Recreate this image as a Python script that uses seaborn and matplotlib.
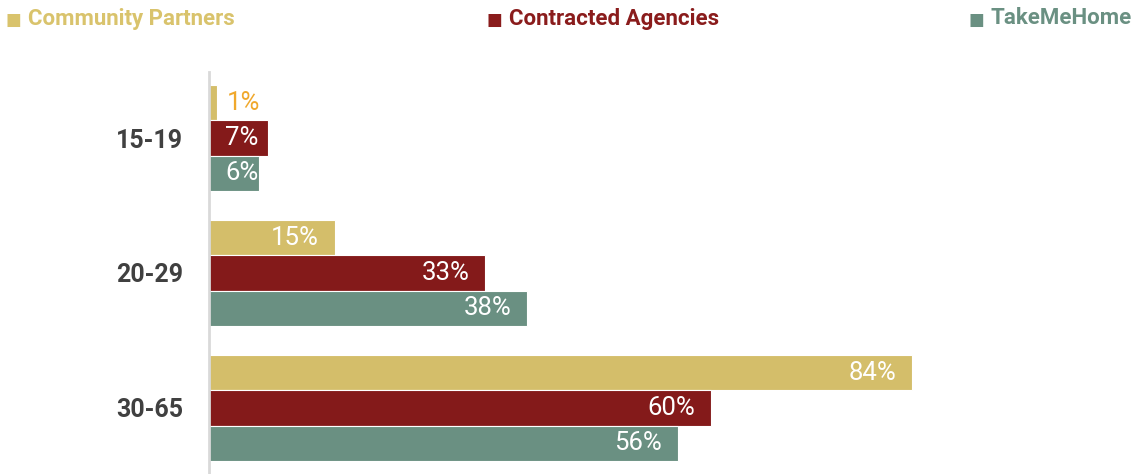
import matplotlib
matplotlib.use("Agg")
import matplotlib.pyplot as plt
import seaborn as sns
import pandas as pd

# Age groups and the share of each program's clients in them (%)
age_groups = ["15-19", "20-29", "30-65"]
programs = ["Community Partners", "Contracted Agencies", "TakeMeHome"]
community_partners = [1, 15, 84]
contracted_agencies = [7, 33, 60]
take_me_home = [6, 38, 56]

palette = {"Community Partners": "#D4BE6A",
           "Contracted Agencies": "#841A1A",
           "TakeMeHome": "#6A9082"}
legend_colors = {"Community Partners": "#D9C36C",
                 "Contracted Agencies": "#8A1C1C",
                 "TakeMeHome": "#6A9082"}

rows = []
for prog, vals in zip(programs, [community_partners, contracted_agencies, take_me_home]):
    for age, v in zip(age_groups, vals):
        rows.append({"age": age, "program": prog, "value": v})
df = pd.DataFrame(rows)

sns.set_theme(style="white")
FONT = ["Roboto", "DejaVu Sans"]
plt.rcParams["font.family"] = FONT

W, H = 1136, 474
fig = plt.figure(figsize=(W / 100, H / 100), dpi=100)
ax_left, ax_right = 209, 1125
ax = fig.add_axes([ax_left / W, 0.0, (ax_right - ax_left) / W, 1 - 72 / H])

sns.barplot(data=df, y="age", x="value", hue="program", order=age_groups,
            hue_order=programs, palette=palette, orient="h", width=0.785,
            saturation=1, edgecolor="white", linewidth=0.8, legend=False, ax=ax)

px_per_unit = 8.37
ax.set_xlim(0, (ax_right - ax_left) / px_per_unit)
ax.set_ylim(2.49, -0.49)

for container, prog in zip(ax.containers, programs):
    for bar in container:
        v = bar.get_width()
        yc = bar.get_y() + bar.get_height() / 2
        if v < 3:
            ax.annotate(f"{v:.0f}%", (v, yc), xytext=(9, 0), textcoords="offset pixels",
                        ha="left", va="center", color="#F0A82C", fontsize=18.5)
        elif v < 10:
            ax.annotate(f"{v:.0f}%", (0, yc), xytext=(16, 0), textcoords="offset pixels",
                        ha="left", va="center", color="white", fontsize=18.5)
        else:
            ax.annotate(f"{v:.0f}%", (v, yc), xytext=(-16, 0), textcoords="offset pixels",
                        ha="right", va="center", color="white", fontsize=18.5)

ax.set_xlabel("")
ax.set_ylabel("")
ax.set_xticks([])
ax.tick_params(axis="y", length=0, pad=18.5, labelsize=18, labelcolor="#404040")
for lbl in ax.get_yticklabels():
    lbl.set_fontweight("bold")
for side in ["top", "right", "bottom"]:
    ax.spines[side].set_visible(False)
ax.spines["left"].set_color("#D9D9D9")
ax.spines["left"].set_linewidth(2)

# Legend across the top: small square swatch followed by the program name
renderer = fig.canvas.get_renderer()
legend_pos = [(28, "left"), (509, "left"), (1132, "right")]
y_leg = 1 - 18.5 / H
for prog, (x, ha) in zip(programs, legend_pos):
    t = fig.text(x / W, y_leg, prog, ha=ha, va="center",
                 color=legend_colors[prog], fontsize=16, fontweight="bold")
    bb = t.get_window_extent(renderer)
    fig.text((bb.x0 - 7) / W, y_leg - 1 / H, "\u25A0", ha="right", va="center",
             color=legend_colors[prog], fontsize=12, family=["DejaVu Sans"])

fig.savefig("out.png", dpi=100)
